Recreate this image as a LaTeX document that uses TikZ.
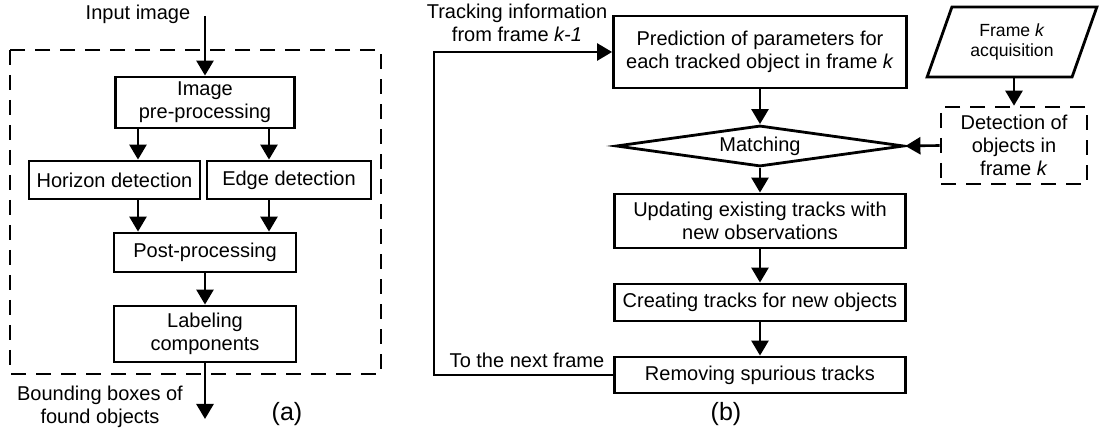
\documentclass[tikz,border=0pt]{standalone}
\usepackage{fontspec}
\setmainfont{Liberation Sans}
\usetikzlibrary{arrows.meta,shapes.geometric}
\newcommand*{\BoxFont}{\fontsize{10}{11.6}\selectfont}
\newcommand*{\SmallBoxFont}{\fontsize{8.8}{10.2}\selectfont}
\newcommand*{\CapFont}{\fontsize{12.5}{14}\selectfont}
\tikzset{
  box/.style={draw, line width=1.4pt, align=center, inner sep=0pt},
  dashbox/.style={draw, line width=1.3pt, dash pattern=on 7.5pt off 5pt},
  arr/.style={line width=1.3pt, -{Triangle[length=7.5pt,width=8.5pt]}},
  lbl/.style={align=center, inner sep=0pt},
}

\begin{document}
\begin{tikzpicture}[x=0.5pt, y=-0.5pt, font=\BoxFont]
  \useasboundingbox (0,0) rectangle (1099,431);

  % (a) detection pipeline
  \draw[dashbox] (10,50) rectangle (381,374);
  \node[box, minimum width=89.5pt, minimum height=25.5pt] (img) at (205,102.5) {Image\\pre-processing};
  \node[box, minimum width=85.5pt, minimum height=19pt] (hor) at (114.5,180) {Horizon detection};
  \node[box, minimum width=82pt, minimum height=19pt] (edge) at (289,180) {Edge detection};
  \node[box, minimum width=91pt, minimum height=19.5pt] (post) at (205,252.5) {Post-processing};
  \node[box, minimum width=91pt, minimum height=28pt] (lab) at (205,334) {Labeling\\components};
  \node[lbl] (intxt) at (138,14) {Input image};
  \node[lbl] (outtxt) at (100,407) {Bounding boxes of\\found objects};
  \node[lbl, font=\CapFont] (cap a) at (287,414) {(a)};
  \coordinate (in) at (205,16);
  \coordinate (out) at (205,419);

  \draw[arr] (in) -- (img.north);
  \draw[arr] ([xshift=-33.5pt]img.south) -- ([xshift=-33.5pt]img.south |- hor.north);
  \draw[arr] ([xshift=32pt]img.south) -- ([xshift=32pt]img.south |- edge.north);
  \draw[arr] ([xshift=-33.5pt]img.south |- hor.south) -- ([xshift=-33.5pt]img.south |- post.north);
  \draw[arr] ([xshift=32pt]img.south |- edge.south) -- ([xshift=32pt]img.south |- post.north);
  \draw[arr] (post.south) -- (lab.north);
  \draw[arr] (lab.south) -- (out);

  % (b) tracking loop
  \node[box, minimum width=146.5pt, minimum height=36pt] (pred) at (760,52) {Prediction of parameters for\\each tracked object in frame \textit{k}};
  \node[diamond, draw, line width=1.4pt, inner sep=0pt, aspect=7, minimum width=144pt, minimum height=20.5pt] (match) at (760,146) {Matching};
  \node[box, minimum width=145.5pt, minimum height=27pt] (upd) at (760,221) {Updating existing tracks with\\new observations};
  \node[box, minimum width=145.5pt, minimum height=18.5pt] (cre) at (760,302.5) {Creating tracks for new objects};
  \node[box, minimum width=145.5pt, minimum height=18pt] (rem) at (760,375) {Removing spurious tracks};
  \node[trapezium, draw, line width=1.4pt, inner sep=0pt, align=center, font=\SmallBoxFont,
        trapezium left angle=65, trapezium right angle=115, trapezium stretches=true,
        minimum width=85pt, minimum height=35pt] (acq) at (1012,42) {Frame \textit{k}\\acquisition};
  \node[dashbox, align=center, inner sep=0pt, minimum width=73pt, minimum height=38.5pt] (det) at (1014,145.5) {Detection of\\objects in\\frame \textit{k}};
  \node[lbl] (fromtxt) at (517,23) {Tracking information\\from frame \textit{k-1}};
  \node[lbl] (nexttxt) at (527,360) {To the next frame};
  \node[lbl, font=\CapFont] (cap b) at (726,414) {(b)};
  \coordinate (back) at (434,374);

  \foreach \a/\b in {pred/match, match/upd, upd/cre, cre/rem}
    \draw[arr] (\a.south) -- (\b.north);
  \draw[arr] (acq.south -| det.north) -- (det.north);
  \draw[arr] (det.west) -- (match.east);
  \draw[arr] (rem.west) -- (rem.west -| back) -- (pred.west -| back) -- (pred.west);

\end{tikzpicture}
\end{document}
